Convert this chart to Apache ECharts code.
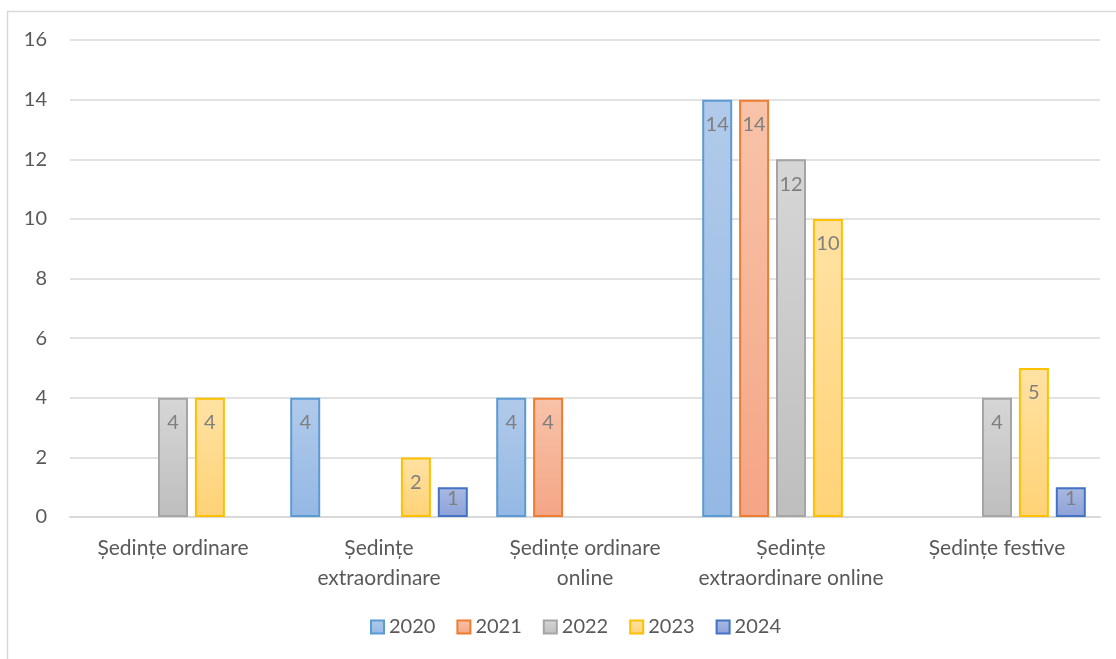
<!DOCTYPE html>
<html>
<head>
<meta charset="utf-8">
<script src="https://cdn.jsdelivr.net/npm/echarts@6/dist/echarts.min.js"></script>
<style>
html,body{margin:0;padding:0;background:#fff;}
#chart{width:1116px;height:659px;}
</style>
</head>
<body>
<div id="chart"></div>
<script>
const categories = ['Ședințe ordinare', 'Ședințe\nextraordinare', 'Ședințe ordinare\nonline', 'Ședințe\nextraordinare online', 'Ședințe festive'];
const seriesNames = ['2020', '2021', '2022', '2023', '2024'];
const values2020 = [null, 4, 4, 14, null];
const values2021 = [null, null, 4, 14, null];
const values2022 = [4, null, null, 12, 4];
const values2023 = [4, 2, null, 10, 5];
const values2024 = [null, 1, null, null, 1];
const yTicks = { min: 0, max: 16, interval: 2 };

const allValues = [values2020, values2021, values2022, values2023, values2024];
const styles = [
  { border: '#5B9BD5', top: '#B1CAEA', bottom: '#94B8E4' },
  { border: '#ED7D31', top: '#F8C3A9', bottom: '#F4A585' },
  { border: '#A5A5A5', top: '#D6D6D6', bottom: '#BEBEBE' },
  { border: '#FFC000', top: '#FFE2A3', bottom: '#FFD276' },
  { border: '#4472C4', top: '#A9B9E2', bottom: '#8DA2D9' }
];
const FONT = 'Lato';
const chart = echarts.init(document.getElementById('chart'), null, { renderer: 'canvas' });

const series = seriesNames.map((name, i) => ({
  name: name,
  type: 'bar',
  // short bars: label hugs the top so it stays inside (as Excel does)
  data: allValues[i].map(v => (v !== null && v < 2) ? { value: v, label: { distance: 1 } } : v),
  barWidth: 30,
  barGap: '23%',
  itemStyle: {
    color: new echarts.graphic.LinearGradient(0, 0, 0, 1, [
      { offset: 0, color: styles[i].top },
      { offset: 1, color: styles[i].bottom }
    ]),
    borderColor: styles[i].border,
    borderWidth: 2
  },
  label: {
    show: true,
    position: 'insideTop',
    distance: 15,
    color: '#7F7F7F',
    fontFamily: FONT,
    fontSize: 20
  },
  emphasis: { disabled: true }
}));

chart.setOption({
  animation: false,
  backgroundColor: '#fff',
  textStyle: { fontFamily: FONT },
  graphic: [{
    type: 'rect',
    shape: { x: 7.5, y: 11.5, width: 1200, height: 700 },
    style: { fill: 'none', stroke: '#D9D9D9', lineWidth: 1.5 },
    silent: true
  }],
  grid: { left: 70, right: 16, top: 40, bottom: 142, containLabel: false },
  legend: {
    data: seriesNames,
    bottom: 17,
    left: 365,
    itemWidth: 13,
    itemHeight: 13,
    itemGap: 21,
    icon: 'rect',
    textStyle: { color: '#595959', fontSize: 20, fontFamily: FONT },
    selectedMode: false
  },
  xAxis: {
    type: 'category',
    data: categories,
    axisLine: { show: true, lineStyle: { color: '#D9D9D9', width: 2 } },
    axisTick: { show: false },
    axisLabel: { color: '#595959', fontSize: 21, fontFamily: FONT, margin: 16, lineHeight: 30, interval: 0 }
  },
  yAxis: {
    type: 'value',
    min: yTicks.min,
    max: yTicks.max,
    interval: yTicks.interval,
    axisLine: { show: false },
    axisTick: { show: false },
    splitLine: { lineStyle: { color: '#D9D9D9', width: 1.5 } },
    axisLabel: { color: '#595959', fontSize: 20, fontFamily: FONT, margin: 23 }
  },
  series: series
});
</script>
</body>
</html>
